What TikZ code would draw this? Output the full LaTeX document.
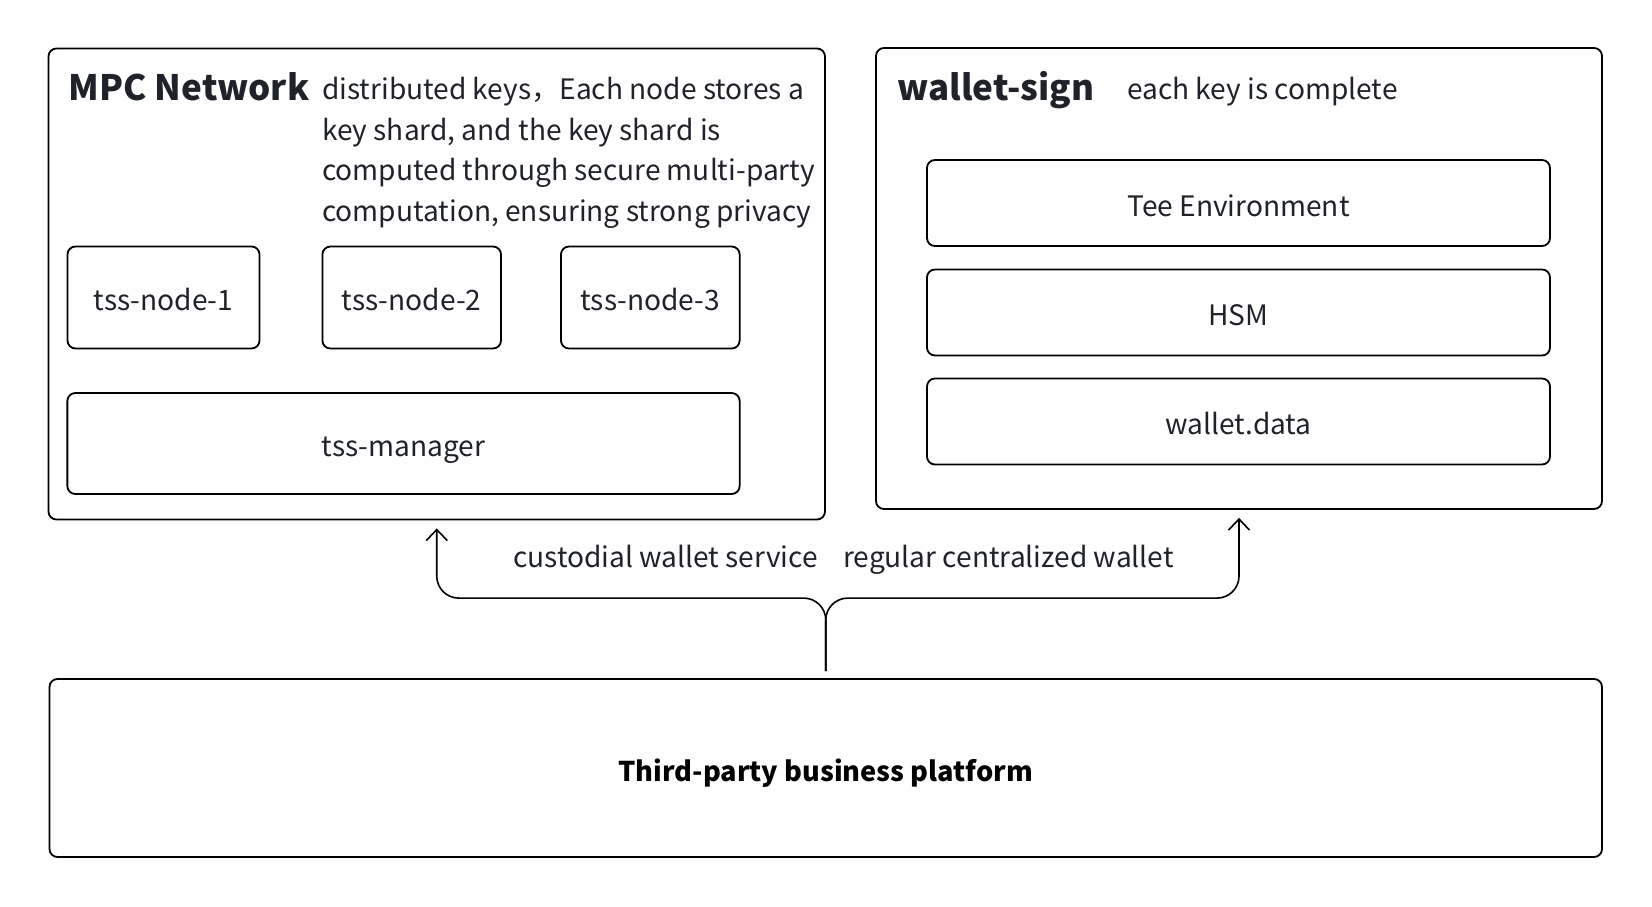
\documentclass[tikz,border=0pt]{standalone}
\usepackage{fontspec}
\setmainfont{Noto Sans CJK SC}
\usetikzlibrary{arrows.meta}
\definecolor{inkgray}{HTML}{1F2329}

\begin{document}
\begin{tikzpicture}[x=1pt,y=-1pt,>/.tip={Straight Barb[length=11pt,width=21pt,line width=1.6pt]},
	box/.style={draw,rounded corners=8pt,line width=1.8pt,inner sep=0pt,text=inkgray,text height=26pt,text depth=0pt,font=\fontsize{28.1}{34}\selectfont},
	label/.style={inner sep=0pt,text=inkgray,font=\fontsize{28.1}{34}\selectfont}]
	\useasboundingbox (0,0) rectangle (1652,906);
	% MPC network
	\draw (436.75,284) node (mpc) [box,minimum width=776.5pt,minimum height=471pt] {};
	\draw (68.5,100) node (mpctitle) [label,anchor=base west,font=\fontsize{35}{40}\selectfont\bfseries] {MPC Network};
	\draw (322,77) node (mpcnote) [label,anchor=north west,align=left,font=\fontsize{28.1}{40.6}\selectfont]
		{distributed keys，Each node stores a\\key shard, and the key shard is\\computed through secure multi-party\\computation, ensuring strong privacy};
	\draw (163.5,297.5) node (node1) [box,minimum width=192pt,minimum height=102pt] {tss-node-1};
	\draw (411.7,297.5) node (node2) [box,minimum width=178.6pt,minimum height=102pt] {tss-node-2};
	\draw (650.3,297.5) node (node3) [box,minimum width=178.7pt,minimum height=102pt] {tss-node-3};
	\draw (403.5,443.5) node (manager) [box,minimum width=672.3pt,minimum height=101pt] {tss-manager};
	% wallet sign
	\draw (1239,278.5) node (wallet) [box,minimum width=726pt,minimum height=461pt] {};
	\draw (897,100) node (wallettitle) [label,anchor=base west,font=\fontsize{35}{40}\selectfont\bfseries] {wallet-sign};
	\draw (1127,99) node (walletnote) [label,anchor=base west] {each key is complete};
	\draw (1238.5,203) node (tee) [box,minimum width=623pt,minimum height=86pt] {Tee Environment};
	\draw (1238.5,312.5) node (hsm) [box,minimum width=623pt,minimum height=86pt] {HSM};
	\draw (1238.5,421.5) node (data) [box,minimum width=623pt,minimum height=86pt] {wallet.data};
	% platform
	\draw (825.75,768) node (platform) [box,minimum width=1552.5pt,minimum height=178pt,font=\fontsize{27.2}{34}\selectfont\bfseries,text=black] {Third-party business platform};

	\draw[->,line width=1.6pt,rounded corners=22pt] ([yshift=7pt]platform.north) -- ++(0,-73) -| ([yshift=-8pt]mpc.south);
	\draw[->,line width=1.6pt,rounded corners=22pt] ([yshift=7pt]platform.north) -- ++(0,-73) -| ([yshift=-8pt]wallet.south);
	\draw (513,567) node (lblmpc) [label,anchor=base west] {custodial wallet service};
	\draw (843,567) node (lblwallet) [label,anchor=base west] {regular centralized wallet};
\end{tikzpicture}
\end{document}
